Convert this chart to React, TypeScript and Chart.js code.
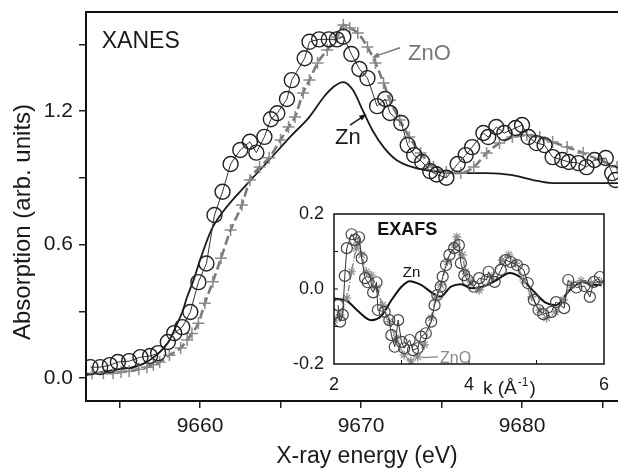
import React, { useEffect, useRef } from 'react';
import { Chart, registerables } from 'chart.js';

Chart.register(...registerables);

const FONT = '"Liberation Sans", Arial, Helvetica, sans-serif';

// ---------- XANES (main plot) ----------
const sampleE = [9653.2, 9653.8, 9654.4, 9654.9, 9655.6, 9656.3, 9656.9, 9657.4, 9658.0, 9658.4, 9658.9, 9659.4, 9659.9, 9660.4, 9660.9, 9661.4, 9661.9, 9662.5, 9663.1, 9663.5, 9664.0, 9664.4, 9664.8, 9665.4, 9665.7, 9666.5, 9666.8, 9667.4, 9668.0, 9668.5, 9668.9, 9669.4, 9669.9, 9670.4, 9671.0, 9671.5, 9671.8, 9672.5, 9672.9, 9673.3, 9673.8, 9674.3, 9674.7, 9675.3, 9676.0, 9676.5, 9676.9, 9677.6, 9677.9, 9678.4, 9678.9, 9679.6, 9680.0, 9680.4, 9680.9, 9681.4, 9681.9, 9682.5, 9682.9, 9683.5, 9684.0, 9684.5, 9685.2, 9685.6, 9685.8];
const sampleMu = [0.049, 0.049, 0.058, 0.072, 0.076, 0.094, 0.099, 0.112, 0.162, 0.202, 0.229, 0.297, 0.431, 0.515, 0.733, 0.837, 0.962, 1.025, 1.062, 1.013, 1.084, 1.163, 1.19, 1.254, 1.339, 1.437, 1.511, 1.522, 1.522, 1.522, 1.534, 1.456, 1.389, 1.348, 1.222, 1.254, 1.191, 1.146, 1.047, 1.002, 0.971, 0.93, 0.915, 0.9, 0.962, 1.002, 1.038, 1.101, 1.083, 1.128, 1.101, 1.124, 1.137, 1.083, 1.056, 1.047, 0.993, 0.98, 0.971, 0.966, 0.948, 0.98, 0.989, 0.921, 0.89];

const znE = [9652.9, 9654.6, 9656.3, 9657.3, 9658.0, 9658.6, 9658.9, 9659.2, 9659.6, 9660.0, 9660.7, 9661.4, 9662.9, 9664.3, 9665.6, 9666.8, 9667.7, 9668.3, 9668.9, 9669.5, 9670.1, 9670.7, 9671.4, 9672.2, 9673.2, 9674.9, 9676.6, 9677.8, 9679.4, 9680.7, 9681.9, 9683.8, 9686.0];
const znMu = [0.013, 0.036, 0.058, 0.103, 0.157, 0.247, 0.297, 0.364, 0.44, 0.53, 0.665, 0.745, 0.87, 0.98, 1.084, 1.174, 1.264, 1.309, 1.33, 1.294, 1.204, 1.115, 1.038, 0.98, 0.948, 0.926, 0.921, 0.921, 0.912, 0.89, 0.876, 0.876, 0.876];

const znoE = [9653.3, 9654.0, 9654.6, 9655.1, 9655.6, 9656.2, 9656.7, 9657.1, 9657.5, 9658.1, 9658.8, 9659.2, 9659.5, 9659.9, 9660.3, 9660.8, 9661.3, 9661.9, 9662.6, 9663.1, 9663.7, 9664.3, 9665.0, 9665.5, 9665.9, 9666.4, 9666.8, 9667.3, 9667.9, 9668.5, 9668.9, 9669.3, 9669.8, 9670.4, 9670.9, 9671.4, 9671.8, 9672.4, 9673.0, 9673.7, 9674.5, 9675.3, 9676.2, 9677.0, 9677.8, 9678.6, 9679.4, 9680.3, 9681.1, 9681.9, 9682.8, 9683.8, 9684.8, 9685.9];
const znoMu = [0.022, 0.022, 0.022, 0.027, 0.031, 0.04, 0.049, 0.06, 0.072, 0.103, 0.135, 0.171, 0.2, 0.246, 0.336, 0.433, 0.538, 0.665, 0.778, 0.89, 0.948, 0.99, 1.07, 1.128, 1.173, 1.281, 1.339, 1.416, 1.474, 1.533, 1.587, 1.573, 1.551, 1.488, 1.416, 1.326, 1.249, 1.16, 1.083, 1.011, 0.948, 0.926, 0.921, 0.948, 1.011, 1.056, 1.083, 1.092, 1.083, 1.061, 1.038, 1.011, 0.98, 0.948];

const xanesXTicks = [9655, 9660, 9665, 9670, 9675, 9680, 9685];
const xanesXLabels = [9660, 9670, 9680];
const xanesYTicks = [0, 0.3, 0.6, 0.9, 1.2, 1.5];
const xanesYLabels = [0, 0.6, 1.2];

// ---------- EXAFS (inset) ----------
const kSample = [2.06, 2.09, 2.13, 2.16, 2.19, 2.26, 2.31, 2.37, 2.41, 2.46, 2.5, 2.58, 2.63, 2.65, 2.75, 2.82, 2.85, 2.9, 2.95, 3.0, 3.04, 3.12, 3.17, 3.24, 3.29, 3.36, 3.44, 3.49, 3.53, 3.58, 3.61, 3.66, 3.71, 3.78, 3.85, 3.88, 3.93, 3.98, 4.07, 4.15, 4.26, 4.29, 4.38, 4.47, 4.54, 4.62, 4.71, 4.81, 4.87, 4.96, 5.03, 5.1, 5.22, 5.29, 5.41, 5.47, 5.59, 5.71, 5.79, 5.85, 5.94];
const chiSample = [-0.043, -0.087, -0.069, 0.035, 0.109, 0.146, 0.131, 0.138, 0.082, 0.029, 0.018, -0.009, 0.018, -0.056, -0.061, -0.083, -0.123, -0.154, -0.083, -0.141, -0.158, -0.136, -0.163, -0.158, -0.127, -0.118, -0.087, -0.043, -0.016, 0.006, 0.033, 0.064, 0.091, 0.109, 0.117, 0.069, 0.037, 0.024, 0.006, 0.029, 0.024, 0.046, 0.019, 0.051, 0.077, 0.072, 0.064, 0.051, 0.016, -0.029, -0.056, -0.067, -0.061, -0.035, -0.051, 0.024, 0.004, 0.008, -0.021, 0.019, 0.032];

const kZn = [2.0, 2.2, 2.35, 2.55, 2.7, 2.85, 3.0, 3.12, 3.29, 3.46, 3.58, 3.73, 3.88, 4.03, 4.2, 4.41, 4.6, 4.75, 4.94, 5.14, 5.29, 5.49, 5.68, 5.82, 5.97];
const chiZn = [-0.025, -0.033, -0.058, -0.083, -0.072, -0.03, 0.006, 0.021, 0.011, -0.011, -0.02, 0.006, 0.013, 0.002, 0.006, 0.024, 0.043, 0.033, -0.003, -0.037, -0.043, -0.003, 0.019, 0.011, 0.011];

const kZnO = [2.01, 2.09, 2.19, 2.26, 2.33, 2.35, 2.41, 2.48, 2.55, 2.63, 2.72, 2.82, 2.92, 3.04, 3.14, 3.24, 3.34, 3.44, 3.51, 3.58, 3.68, 3.78, 3.82, 3.9, 3.95, 4.03, 4.15, 4.34, 4.49, 4.59, 4.69, 4.81, 4.93, 5.05, 5.15, 5.28, 5.4, 5.52, 5.66, 5.81, 5.96];
const chiZnO = [-0.083, -0.069, -0.024, 0.046, 0.109, 0.123, 0.091, 0.046, 0.037, 0.003, -0.043, -0.087, -0.131, -0.176, -0.192, -0.181, -0.149, -0.077, -0.024, 0.011, 0.073, 0.117, 0.139, 0.091, 0.046, 0.019, -0.003, 0.033, 0.077, 0.091, 0.069, 0.024, -0.021, -0.056, -0.077, -0.061, -0.029, 0.011, 0.022, 0.016, 0.019];

const exafsXTicks = [2, 4, 6];
const exafsYTicks = [-0.2, 0, 0.2];
const exafsMinorX = [3, 4, 5];
const exafsMinorY = [-0.1, 0, 0.1];

const pts = (xs: number[], ys: number[]) => xs.map((x, i) => ({ x, y: ys[i] }));

const noPad = (s: any) => {
  s.paddingLeft = 0;
  s.paddingRight = 0;
  s.paddingTop = 0;
  s.paddingBottom = 0;
};

function drawArrow(ctx: CanvasRenderingContext2D, x0: number, y0: number, x1: number, y1: number, color: string, size = 8) {
  ctx.save();
  ctx.strokeStyle = color;
  ctx.fillStyle = color;
  ctx.lineWidth = 1.5;
  ctx.setLineDash([]);
  const ang = Math.atan2(y1 - y0, x1 - x0);
  ctx.beginPath();
  ctx.moveTo(x0, y0);
  ctx.lineTo(x1 - size * 0.7 * Math.cos(ang), y1 - size * 0.7 * Math.sin(ang));
  ctx.stroke();
  ctx.beginPath();
  ctx.moveTo(x1, y1);
  ctx.lineTo(x1 - size * Math.cos(ang - 0.35), y1 - size * Math.sin(ang - 0.35));
  ctx.lineTo(x1 - size * Math.cos(ang + 0.35), y1 - size * Math.sin(ang + 0.35));
  ctx.closePath();
  ctx.fill();
  ctx.restore();
}

const xanesDecor = {
  id: 'xanesDecor',
  afterDraw(chart: any) {
    const { ctx, chartArea: a, scales } = chart;
    const X = (v: number) => scales.x.getPixelForValue(v);
    const Y = (v: number) => scales.y.getPixelForValue(v);
    ctx.save();
    ctx.strokeStyle = '#111';
    ctx.lineWidth = 2;
    ctx.beginPath();
    ctx.moveTo(a.left, a.top);
    ctx.lineTo(a.right, a.top);
    ctx.stroke();

    ctx.fillStyle = '#1a1a1a';
    ctx.textBaseline = 'alphabetic';
    ctx.textAlign = 'center';
    ctx.font = `23px ${FONT}`;
    ctx.fillText('X-ray energy (eV)', 367, 463);
    ctx.save();
    ctx.translate(30, 222);
    ctx.rotate(-Math.PI / 2);
    ctx.font = `24px ${FONT}`;
    ctx.fillText('Absorption (arb. units)', 0, 0);
    ctx.restore();

    ctx.textAlign = 'left';
    ctx.font = `23px ${FONT}`;
    ctx.fillText('XANES', X(9653.9), Y(1.483));

    ctx.fillStyle = '#777';
    ctx.font = `22px ${FONT}`;
    ctx.fillText('ZnO', X(9672.92), Y(1.43));
    drawArrow(ctx, X(9672.42), Y(1.484), X(9670.66), Y(1.441), '#777');

    ctx.fillStyle = '#1a1a1a';
    ctx.fillText('Zn', X(9668.39), Y(1.052));
    drawArrow(ctx, X(9669.32), Y(1.137), X(9670.35), Y(1.187), '#1a1a1a');
    ctx.restore();
  },
};

const exafsDecor = {
  id: 'exafsDecor',
  beforeDraw(chart: any) {
    const { ctx, chartArea: a } = chart;
    ctx.save();
    ctx.fillStyle = '#fff';
    ctx.fillRect(a.left, a.top, a.right - a.left, a.bottom - a.top);
    ctx.restore();
  },
  afterDraw(chart: any) {
    const { ctx, chartArea: a, scales } = chart;
    const X = (v: number) => scales.x.getPixelForValue(v);
    const Y = (v: number) => scales.y.getPixelForValue(v);
    ctx.save();
    ctx.strokeStyle = '#111';
    ctx.lineWidth = 1.5;
    ctx.strokeRect(a.left, a.top, a.right - a.left, a.bottom - a.top);
    ctx.lineWidth = 1;
    ctx.beginPath();
    exafsMinorX.forEach((k) => {
      ctx.moveTo(X(k), a.bottom);
      ctx.lineTo(X(k), a.bottom - 4);
    });
    exafsMinorY.forEach((v) => {
      ctx.moveTo(a.left, Y(v));
      ctx.lineTo(a.left + 4, Y(v));
    });
    ctx.stroke();

    ctx.textBaseline = 'alphabetic';
    ctx.textAlign = 'left';
    ctx.fillStyle = '#111';
    ctx.font = `bold 18px ${FONT}`;
    ctx.fillText('EXAFS', X(2.64), Y(0.144));
    ctx.font = `15px ${FONT}`;
    ctx.fillText('Zn', X(3.02), Y(0.032));
    ctx.fillStyle = '#888';
    ctx.font = `16px ${FONT}`;
    ctx.fillText('ZnO', X(3.57), Y(-0.197));
    ctx.strokeStyle = '#888';
    ctx.lineWidth = 1.2;
    ctx.beginPath();
    ctx.moveTo(X(3.3), Y(-0.183));
    ctx.lineTo(X(3.54), Y(-0.181));
    ctx.stroke();

    // k (Å^-1)
    ctx.fillStyle = '#1a1a1a';
    let x = 203;
    const base = 199;
    ctx.font = `19px ${FONT}`;
    const t1 = 'k (Å';
    ctx.fillText(t1, x, base);
    x += ctx.measureText(t1).width + 1;
    ctx.font = `12px ${FONT}`;
    ctx.fillText('-1', x, base - 8);
    x += ctx.measureText('-1').width + 1;
    ctx.font = `19px ${FONT}`;
    ctx.fillText(')', x, base);
    ctx.restore();
  },
};

export default function App() {
  const mainRef = useRef<HTMLCanvasElement>(null);
  const insetRef = useRef<HTMLCanvasElement>(null);

  useEffect(() => {
    document.body.style.margin = '0';
    const main = new Chart(mainRef.current as HTMLCanvasElement, {
      type: 'line',
      data: {
        datasets: [
          {
            data: pts(sampleE, sampleMu),
            showLine: true,
            borderColor: '#333',
            borderWidth: 1,
            tension: 0,
            pointStyle: 'circle',
            pointRadius: 7.5,
            pointBorderColor: '#222',
            pointBorderWidth: 1.4,
            pointBackgroundColor: 'rgba(255,255,255,0)',
          },
          {
            data: pts(znoE, znoMu),
            showLine: true,
            borderColor: '#7a7a7a',
            borderWidth: 2.6,
            borderDash: [9, 4],
            cubicInterpolationMode: 'monotone',
            pointStyle: 'cross',
            pointRadius: 6,
            pointBorderColor: '#8a8a8a',
            pointBorderWidth: 1.5,
          },
          {
            data: pts(znE, znMu),
            showLine: true,
            borderColor: '#1a1a1a',
            borderWidth: 1.8,
            cubicInterpolationMode: 'monotone',
            pointRadius: 0,
          },
        ],
      },
      options: {
        responsive: false,
        animation: false,
        devicePixelRatio: 1,
        layout: { autoPadding: false, padding: { top: 12, right: 0, left: 0, bottom: 0 } },
        plugins: { legend: { display: false }, tooltip: { enabled: false } },
        scales: {
          x: {
            type: 'linear',
            min: 9652.92,
            max: 9685.96,
            afterBuildTicks: (s: any) => {
              s.ticks = xanesXTicks.map((v) => ({ value: v }));
            },
            afterFit: (s: any) => {
              s.height = 70;
              noPad(s);
            },
            ticks: {
              autoSkip: false,
              maxRotation: 0,
              padding: 6,
              color: '#1a1a1a',
              font: { size: 21, family: FONT },
              callback: (v: any) => (xanesXLabels.includes(v) ? String(v) : ''),
            },
            grid: { drawOnChartArea: false, tickLength: 7, color: '#222', lineWidth: 1.5 },
            border: { color: '#111', width: 2 },
          },
          y: {
            type: 'linear',
            min: -0.103,
            max: 1.645,
            afterBuildTicks: (s: any) => {
              s.ticks = xanesYTicks.map((v) => ({ value: v }));
            },
            afterFit: (s: any) => {
              s.width = 86;
              noPad(s);
            },
            ticks: {
              autoSkip: false,
              padding: 6,
              color: '#1a1a1a',
              font: { size: 21, family: FONT },
              callback: (v: any) => (xanesYLabels.includes(v) ? Number(v).toFixed(1) : ''),
            },
            grid: { drawOnChartArea: false, tickLength: 7, color: '#222', lineWidth: 1.5 },
            border: { color: '#111', width: 2 },
          },
        },
      } as any,
      plugins: [xanesDecor],
    });

    const inset = new Chart(insetRef.current as HTMLCanvasElement, {
      type: 'line',
      data: {
        datasets: [
          {
            data: pts(kSample, chiSample),
            showLine: true,
            borderColor: '#333',
            borderWidth: 1,
            tension: 0,
            pointStyle: 'circle',
            pointRadius: 5.5,
            pointBorderColor: '#444',
            pointBorderWidth: 1.2,
            pointBackgroundColor: 'rgba(255,255,255,0)',
          },
          {
            data: pts(kZnO, chiZnO),
            showLine: true,
            borderColor: '#888',
            borderWidth: 1.5,
            borderDash: [6, 2, 1, 2],
            cubicInterpolationMode: 'monotone',
            pointStyle: 'star',
            pointRadius: 4.5,
            pointBorderColor: '#888',
            pointBorderWidth: 1.2,
          },
          {
            data: pts(kZn, chiZn),
            showLine: true,
            borderColor: '#111',
            borderWidth: 2,
            cubicInterpolationMode: 'monotone',
            pointRadius: 0,
          },
        ],
      },
      options: {
        responsive: false,
        animation: false,
        devicePixelRatio: 1,
        layout: { autoPadding: false, padding: { top: 19, right: 14, left: 0, bottom: 0 } },
        plugins: { legend: { display: false }, tooltip: { enabled: false } },
        scales: {
          x: {
            type: 'linear',
            min: 2,
            max: 6,
            afterBuildTicks: (s: any) => {
              s.ticks = exafsXTicks.map((v) => ({ value: v }));
            },
            afterFit: (s: any) => {
              s.height = 41;
              noPad(s);
            },
            ticks: {
              autoSkip: false,
              maxRotation: 0,
              padding: 2,
              color: '#1a1a1a',
              font: { size: 18, family: FONT },
              callback: (v: any) => String(v),
            },
            grid: { display: false },
            border: { display: false },
          },
          y: {
            type: 'linear',
            min: -0.2,
            max: 0.2,
            afterBuildTicks: (s: any) => {
              s.ticks = exafsYTicks.map((v) => ({ value: v }));
            },
            afterFit: (s: any) => {
              s.width = 54;
              noPad(s);
            },
            ticks: {
              autoSkip: false,
              padding: 2,
              color: '#1a1a1a',
              font: { size: 18, family: FONT },
              callback: (v: any) => Number(v).toFixed(1),
            },
            grid: { display: false },
            border: { display: false },
          },
        },
      } as any,
      plugins: [exafsDecor],
    });

    return () => {
      main.destroy();
      inset.destroy();
    };
  }, []);

  return (
    <div style={{ position: 'fixed', left: 0, top: 0, width: 618, height: 471, background: '#fff', overflow: 'hidden' }}>
      <canvas ref={mainRef} width={618} height={471} style={{ position: 'absolute', left: 0, top: 0, display: 'block' }} />
      <canvas ref={insetRef} width={338} height={210} style={{ position: 'absolute', left: 280, top: 195, display: 'block' }} />
    </div>
  );
}
